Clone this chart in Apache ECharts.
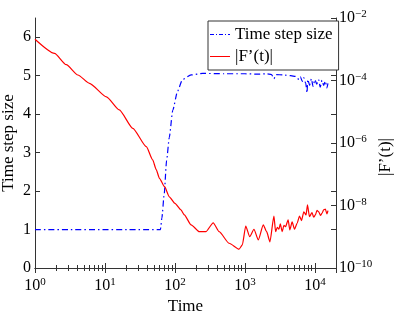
<!DOCTYPE html>
<html>
<head>
<meta charset="utf-8">
<script src="https://cdn.jsdelivr.net/npm/echarts@6/dist/echarts.min.js"></script>
<style>
  html, body { margin: 0; padding: 0; background: #fff; }
  #chart { width: 399px; height: 322px; }
</style>
</head>
<body>
<div id="chart"></div>
<script>
// time step size (left axis)
var stepTime = [1, 62, 65, 70, 76, 83, 93, 109, 128, 170, 250, 500, 1000, 1500, 2000, 2400, 2594, 2800,
  3500, 4500, 5300, 5900, 6200, 6600, 6900, 7400, 7700, 7900, 8400, 8900, 9400, 10000, 10600,
  11300, 11900, 12600, 13300, 14100, 14800, 15350];
var stepSize = [1, 1, 1.3, 1.9, 2.8, 3.4, 4.1, 4.6, 4.9, 5.02, 5.06, 5.05, 5.05, 5.04, 5.05, 5.03, 4.92, 5.03,
  5.02, 5.0, 4.98, 4.9, 4.97, 4.85, 4.95, 4.8, 4.55, 4.9, 4.75, 4.92, 4.72, 4.9, 4.78,
  4.9, 4.7, 4.88, 4.75, 4.86, 4.68, 4.8];

// |F'(t)| (right axis, log)
var gradTime = [1, 1.9, 2.8, 4.1, 6.0, 10.5, 16, 25, 39, 48, 54, 60, 71, 83, 100, 122, 136, 170,
  223, 276, 352, 428, 594, 824, 918, 1026, 1170, 1346, 1552, 1828, 2042, 2275, 2594, 2742,
  2900, 3055, 3200, 3404, 3600, 3803, 4142, 4378, 4722, 5108, 5564, 6022, 6432, 6934, 7471,
  7823, 8350, 9092, 9600, 10160, 10700, 11330, 12000, 12620, 13300, 14100, 14860, 15350];
var gradNorm = [2.1e-3, 7.4e-4, 3.2e-4, 1.5e-4, 8.1e-5, 3.0e-5, 1.15e-5, 2.95e-6, 7.6e-7, 2.9e-7, 1.4e-7, 7.4e-8, 4.0e-8, 1.9e-8, 1.17e-8, 7.2e-9, 5.0e-9, 2.4e-9,
  1.45e-9, 1.45e-9, 2.8e-9, 1.45e-9, 6.2e-10, 4.0e-10, 5.5e-10, 2.2e-9, 1.0e-9, 1.74e-9, 7.9e-10, 2.4e-9, 1.45e-9, 6.9e-10, 4.6e-9, 1.45e-9,
  2.0e-9, 1.74e-9, 2.6e-9, 1.45e-9, 2.3e-9, 2.1e-9, 3.5e-9, 1.66e-9, 3.0e-9, 1.74e-9, 2.7e-9, 4.6e-9, 3.3e-9, 6.3e-9, 5.0e-9,
  1.05e-8, 4.4e-9, 5.9e-9, 4.2e-9, 5.0e-9, 7.0e-9, 6.3e-9, 4.8e-9, 5.6e-9, 7.2e-9, 7.6e-9, 5.4e-9, 6.9e-9];

function zip(a, b) {
  return a.map(function (v, i) { return [v, b[i]]; });
}

var FONT = '"Liberation Serif", "DejaVu Serif", serif';
var AXIS_COLOR = '#333';

function powLabel(v) {
  var e = Math.round(Math.log10(v));
  if (Math.abs(Math.log10(v) - e) > 1e-6) return '';
  var s = e < 0 ? '\u2212' + (-e) : '' + e;
  return '{b|10}{e|' + s + '}';
}
var powRich = {
  b: { fontFamily: FONT, fontSize: 16, color: '#000', lineHeight: 18 },
  e: { fontFamily: FONT, fontSize: 11, color: '#000', verticalAlign: 'top', lineHeight: 12, padding: [0, 0, 8, 0] }
};

var chart = echarts.init(document.getElementById('chart'));

var option = {
  animation: false,
  backgroundColor: '#fff',
  grid: { left: 35, right: 63, top: 18, bottom: 54, outerBoundsMode: 'none' },
  legend: {
    orient: 'vertical',
    left: 208,
    top: 21,
    backgroundColor: '#fff',
    borderColor: '#333',
    borderWidth: 1,
    borderRadius: 0,
    padding: [5, 6, 5, 2],
    itemGap: 5,
    itemWidth: 20,
    itemHeight: 1.5,
    textStyle: { fontFamily: FONT, fontSize: 17, color: '#000' },
    data: [
      {
        name: 'Time step size',
        icon: 'path://M0,0h4v1h-4z M6,0h1v1h-1z M9,0h4v1h-4z M15,0h1v1h-1z M18,0h2v1h-2z',
        itemStyle: { color: '#0000ff' }
      },
      { name: '|F\u2019(t)|', icon: 'path://M0,0h20v1h-20z', itemStyle: { color: '#ff0000' } }
    ]
  },
  xAxis: [{
    type: 'log',
    min: 1,
    max: 20000,
    name: 'Time',
    nameLocation: 'middle',
    nameGap: 30,
    nameMoveOverlap: false,
    nameTextStyle: { fontFamily: FONT, fontSize: 17, color: '#000' },
    axisLine: { lineStyle: { color: AXIS_COLOR } },
    axisTick: { inside: true, length: 5, lineStyle: { color: AXIS_COLOR } },
    minorTick: { show: true, splitNumber: 9, length: 3, lineStyle: { color: AXIS_COLOR } },
    splitLine: { show: false },
    axisLabel: { formatter: powLabel, rich: powRich, margin: 9, showMaxLabel: false }
  }, {
    type: 'log',
    position: 'top',
    min: 1,
    max: 20000,
    axisLine: { lineStyle: { color: AXIS_COLOR } },
    axisTick: { inside: true, length: 5, lineStyle: { color: AXIS_COLOR } },
    minorTick: { show: true, splitNumber: 9, length: 3, lineStyle: { color: AXIS_COLOR } },
    splitLine: { show: false },
    axisLabel: { show: false }
  }],
  yAxis: [{
    type: 'value',
    min: 0,
    max: 6.5,
    interval: 1,
    name: 'Time step size',
    nameLocation: 'middle',
    nameGap: 18,
    nameMoveOverlap: false,
    nameTextStyle: { fontFamily: FONT, fontSize: 17, color: '#000' },
    axisLine: { show: true, lineStyle: { color: AXIS_COLOR } },
    axisTick: { inside: true, length: 5, lineStyle: { color: AXIS_COLOR } },
    splitLine: { show: false },
    axisLabel: { fontFamily: FONT, fontSize: 16, color: '#000', margin: 4, showMaxLabel: false }
  }, {
    type: 'log',
    logBase: 100,
    min: 1e-10,
    max: 1e-2,
    position: 'right',
    name: '|F\u2019(t)|',
    nameLocation: 'middle',
    nameGap: 41,
    nameMoveOverlap: false,
    nameTextStyle: { fontFamily: FONT, fontSize: 17, color: '#000', padding: [0, 28, 0, 0] },
    axisLine: { show: true, lineStyle: { color: AXIS_COLOR } },
    axisTick: { inside: true, length: 5, lineStyle: { color: AXIS_COLOR } },
    splitLine: { show: false },
    axisLabel: { formatter: powLabel, rich: powRich, margin: 3 }
  }, {
    type: 'value',
    min: 0,
    max: 6.5,
    interval: 1,
    position: 'right',
    axisLine: { show: false },
    axisTick: { inside: true, length: 5, lineStyle: { color: AXIS_COLOR } },
    splitLine: { show: false },
    axisLabel: { show: false }
  }],
  series: [{
    name: 'Time step size',
    type: 'line',
    xAxisIndex: 0,
    yAxisIndex: 0,
    data: zip(stepTime, stepSize),
    symbol: 'none',
    smooth: 0.2,
    smoothMonotone: 'x',
    lineStyle: { color: '#0000ff', width: 1.2, type: [6, 3, 1.5, 3] },
    itemStyle: { color: '#0000ff' }
  }, {
    name: '|F\u2019(t)|',
    type: 'line',
    xAxisIndex: 0,
    yAxisIndex: 1,
    data: zip(gradTime, gradNorm),
    symbol: 'none',
    smooth: 0.2,
    smoothMonotone: 'x',
    lineStyle: { color: '#ff0000', width: 1.2 },
    itemStyle: { color: '#ff0000' }
  }]
};

chart.setOption(option);

window.onresize = function () {
  chart.resize();
};
</script>
</body>
</html>
